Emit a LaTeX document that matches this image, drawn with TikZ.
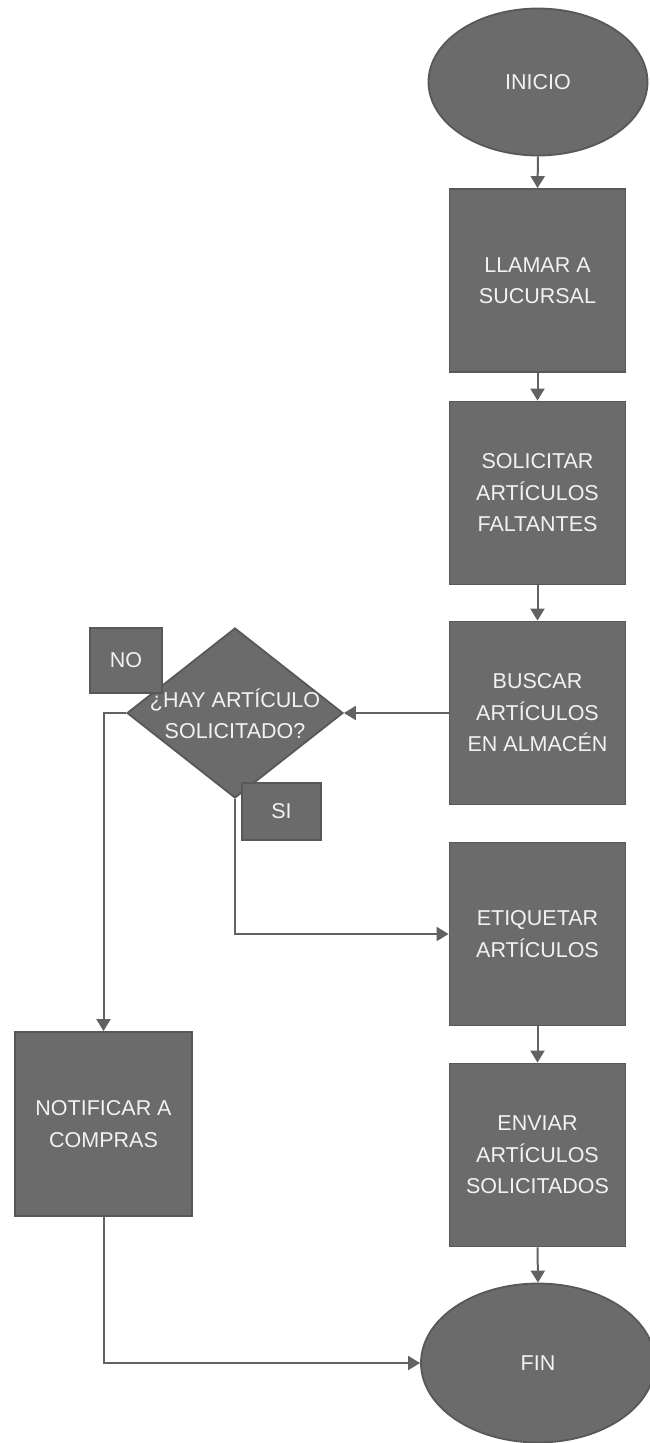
\documentclass[tikz,border=0pt]{standalone}
\usepackage{fontspec}
\setmainfont{Liberation Sans}
\usetikzlibrary{shapes.geometric,arrows.meta}

\definecolor{boxfill}{HTML}{6B6B6B}
\definecolor{boxline}{HTML}{585858}
\definecolor{flowline}{HTML}{626262}
\definecolor{boxtext}{HTML}{F2F2F2}

\tikzset{
  base/.style={fill=boxfill, draw=boxline, line width=1.8pt, text=boxtext,
    font=\fontsize{21.5}{31.5}\selectfont, align=center, inner sep=0pt},
  terminal/.style={base, ellipse},
  process/.style={base, rectangle, minimum width=176pt, minimum height=183pt},
  decision/.style={base, diamond, minimum width=216pt, minimum height=170pt},
  tag/.style={base, rectangle},
  decisiontext/.style={text=boxtext, font=\fontsize{21.5}{31.5}\selectfont, align=center, inner sep=0pt},
  arr/.style={draw=flowline, line width=2pt, -{Triangle[length=12pt,width=14pt]}},
}

\begin{document}
\begin{tikzpicture}[x=1pt, y=-1pt]
  \useasboundingbox (0,0) rectangle (650,1443);

  % main column
  \node[terminal, minimum width=219pt, minimum height=147pt] (ini) at (538,82) {INICIO};
  \node[process] (llamar) at (537.5,280.5) {LLAMAR A\\SUCURSAL};
  \node[process] (solic) at (537.5,493) {SOLICITAR\\ARTÍCULOS\\FALTANTES};
  \node[process] (buscar) at (537.5,713) {BUSCAR\\ARTÍCULOS\\EN ALMACÉN};
  \node[process] (etiq) at (537.5,934) {ETIQUETAR\\ARTÍCULOS};
  \node[process] (enviar) at (537.5,1155) {ENVIAR\\ARTÍCULOS\\SOLICITADOS};
  \node[terminal, minimum width=234pt, minimum height=159pt] (fin) at (538,1363) {FIN};

  % decision and side branch
  \node[decision] (dec) at (235,713) {};
  \node[decisiontext] (dectxt) at (235,714) {¿HAY ARTÍCULO\\SOLICITADO?};
  \node[tag, minimum width=72pt, minimum height=65pt] (no) at (126,660.5) {NO};
  \node[tag, minimum width=79pt, minimum height=57pt] (si) at (281.5,811.5) {SI};
  \node[process, minimum width=177pt, minimum height=184pt] (notif) at (103.5,1124) {NOTIFICAR A\\COMPRAS};

  % connectors
  \draw[arr] (ini.south) -- (llamar.north);
  \draw[arr] (llamar.south) -- (solic.north);
  \draw[arr] (solic.south) -- (buscar.north);
  \draw[arr] (buscar.west) -- (dec.east);
  \draw[arr] (dec.west) -| (notif.north);
  \draw[arr] (dec.south) |- (etiq.west);
  \draw[arr] (etiq.south) -- (enviar.north);
  \draw[arr] (enviar.south) -- (fin.north);
  \draw[arr] (notif.south) |- (fin.west);
\end{tikzpicture}
\end{document}
